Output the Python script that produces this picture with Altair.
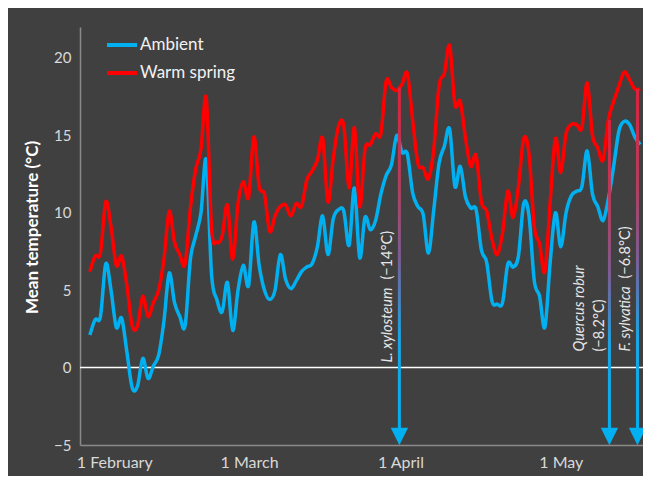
import altair as alt
import pandas as pd

# ---- data ----
days = list(range(105))  # day 0 = 1 February

warm_spring = [6.2, 7.2, 7.4, 10.7, 9.1, 6.6, 7.2, 5.3, 2.7, 2.7,
               4.6, 3.3, 4.2, 5.0, 7.0, 10.1, 8.1, 7.3, 6.7, 10.3,
               12.8, 14.1, 17.4, 9.0, 8.1, 8.5, 10.5, 7.0, 10.6, 12.0,
               11.0, 14.9, 11.7, 11.2, 8.8, 9.8, 10.4, 10.5, 9.8, 10.6,
               10.4, 12.1, 12.7, 13.4, 14.8, 10.7, 13.5, 15.6, 15.6, 11.6,
               15.5, 10.4, 14.1, 14.4, 15.1, 15.1, 18.5, 18.1, 17.9, 18.3,
               19.0, 16.0, 13.2, 12.9, 12.2, 14.1, 18.2, 19.0, 20.8, 17.0,
               17.2, 14.8, 13.0, 13.7, 10.7, 10.1, 8.3, 7.3, 8.7, 11.4,
               9.7, 11.7, 14.8, 13.8, 9.1, 8.0, 6.2, 10.7, 14.8, 12.6,
               15.1, 15.7, 15.7, 15.5, 18.4, 15.0, 14.2, 13.4, 16.0, 17.2,
               18.2, 19.1, 18.6, 18.0, 18.0]

ambient = [2.1, 3.1, 3.3, 6.7, 5.0, 2.6, 3.2, 1.0, -1.3, -1.2,
           0.6, -0.7, 0.1, 0.8, 3.0, 6.1, 4.2, 3.3, 2.7, 7.0,
           8.5, 10.0, 13.4, 6.0, 4.4, 3.6, 5.5, 2.4, 5.0, 6.6,
           5.3, 9.4, 6.6, 5.0, 4.4, 5.0, 7.3, 5.7, 5.1, 5.6,
           6.2, 6.5, 6.7, 7.8, 9.8, 7.3, 9.6, 10.2, 10.1, 7.9,
           11.6, 7.1, 9.7, 8.9, 9.5, 11.2, 12.4, 13.1, 15.0, 13.9,
           13.8, 11.3, 10.4, 9.9, 7.4, 10.2, 13.2, 14.3, 15.4, 11.7,
           13.0, 11.0, 10.3, 10.2, 7.6, 6.8, 4.3, 4.1, 4.2, 6.7,
           6.5, 7.2, 10.6, 9.8, 5.6, 4.6, 2.6, 6.8, 10.0, 7.8,
           10.0, 11.1, 11.4, 11.7, 14.0, 11.2, 10.4, 9.5, 10.9, 13.0,
           15.3, 15.9, 15.7, 14.9, 14.4]

series_names = ["Ambient", "Warm spring"]
series_colors = ["#00b0f0", "#ff0000"]

species = ["L. xylosteum", "Quercus robur", "F. sylvatica"]
lethal_temp = ["(−14°C)", "(−8.2°C)", "(−6.8°C)"]
arrow_day = [58.5, 98.2, 103.5]
arrow_top = [18.1, 16.0, 18.0]

tick_days = [4.6, 30.1, 58.7, 89.0]
tick_labels = ["1 February", "1 March", "1 April", "1 May"]
y_ticks = [-5, 0, 5, 10, 15, 20]

# ---- tables ----
df = pd.DataFrame({
    "day": days * 2,
    "temp": ambient + warm_spring,
    "series": ["Ambient"] * len(days) + ["Warm spring"] * len(days),
})
arrows = pd.DataFrame({"species": species, "lethal": lethal_temp,
                       "day": arrow_day, "top": arrow_top})
zero = pd.DataFrame({"v": [0]})

FONT = "Lato"
TXT = "#e6e6e6"
BG = "#404040"
AXIS = "#8a8a8a"
ANN = 14.5

x_expr = " : ".join(
    f"abs(datum.value - {d}) < 0.01 ? '{l}'" for d, l in zip(tick_days, tick_labels)
) + " : ''"

xs = alt.Scale(domain=[-0.92, 103.6], nice=False, zero=False)
ys = alt.Scale(domain=[-5, 22], nice=False, zero=False)

x_axis = alt.Axis(values=tick_days, labelExpr=x_expr, title=None, grid=False,
                  ticks=False, domainColor=AXIS, domainWidth=1.5,
                  labelColor="#d9d9d9", labelFont=FONT, labelFontSize=16,
                  labelPadding=9, labelFlush=False, labelOverlap=False)
y_axis = alt.Axis(values=y_ticks,
                  labelExpr="datum.value < 0 ? '−' + abs(datum.value) : datum.value",
                  title="Mean temperature (°C)", titleColor="#ffffff",
                  titleFont=FONT, titleFontSize=17, titleFontWeight="bold",
                  titleAngle=270, titleAlign="center", titleBaseline="middle",
                  titleX=-48, titleY=200,
                  grid=False, ticks=False, domainColor=AXIS, domainWidth=1.5,
                  labelColor="#d9d9d9", labelFont=FONT, labelFontSize=15,
                  labelPadding=9)

legend = alt.Legend(title=None, orient="none", legendX=28, legendY=4,
                    symbolType="M-1.25,0H1.25", symbolSize=576,
                    symbolStrokeWidth=4, labelFont=FONT, labelFontSize=17,
                    labelColor="#f2f2f2", labelOffset=4, rowPadding=6,
                    padding=0)

zero_line = alt.Chart(zero).mark_rule(color="#ffffff", strokeWidth=1.5).encode(
    y=alt.Y("v:Q", scale=ys, axis=y_axis))

lines = alt.Chart(df).mark_line(interpolate="cardinal", strokeWidth=3.5, clip=True).encode(
    x=alt.X("day:Q", scale=xs, axis=x_axis),
    y=alt.Y("temp:Q", scale=ys, axis=y_axis),
    color=alt.Color("series:N", scale=alt.Scale(domain=series_names, range=series_colors),
                    legend=legend),
)

grad = alt.LinearGradient(
    gradient="linear", x1=0, x2=0, y1=0, y2=1,
    stops=[alt.GradientStop(color="#e0203a", offset=0),
           alt.GradientStop(color="#b04062", offset=0.3),
           alt.GradientStop(color="#7a5e96", offset=0.5),
           alt.GradientStop(color="#1aa6e6", offset=0.72),
           alt.GradientStop(color="#00b0f0", offset=1)])

shafts = alt.Chart(arrows).mark_bar(size=3, color=grad).encode(
    x=alt.X("day:Q", scale=xs), y=alt.Y("top:Q", scale=ys), y2=alt.datum(-4.2))

heads = alt.Chart(arrows).mark_point(shape="M-1,-1L1,-1L0,1Z", size=300, filled=True,
                                     color="#00b0f0", opacity=1, yOffset=-8.5).encode(
    x=alt.X("day:Q", scale=xs), y=alt.datum(-5))


def label(sp, field, dx, dy, italic):
    return alt.Chart(arrows).transform_filter(alt.datum.species == sp).mark_text(
        angle=270, align="left", baseline="middle", dx=dx, dy=dy,
        font=FONT, fontSize=ANN, fontStyle="italic" if italic else "normal",
        color=TXT).encode(x=alt.X("day:Q", scale=xs), y=alt.datum(0),
                          text=alt.Text(f"{field}:N"))


labels = [
    label(species[0], "species", 5, -11, True),
    label(species[0], "lethal", 88, -11, False),
    label(species[1], "species", 16, -29, True),
    label(species[1], "lethal", 16, -9, False),
    label(species[2], "species", 16, -11, True),
    label(species[2], "lethal", 89, -11, False),
]

chart = alt.layer(zero_line, lines, shafts, heads, *labels).properties(
    width=563, height=418, background=BG,
    autosize=alt.AutoSizeParams(type="none"),
    padding={"left": 72, "top": 19, "right": 0, "bottom": 31},
).configure_view(stroke=None).configure_text(font=FONT)

chart.save("out.html", embed_options={"renderer": "svg", "actions": False})
